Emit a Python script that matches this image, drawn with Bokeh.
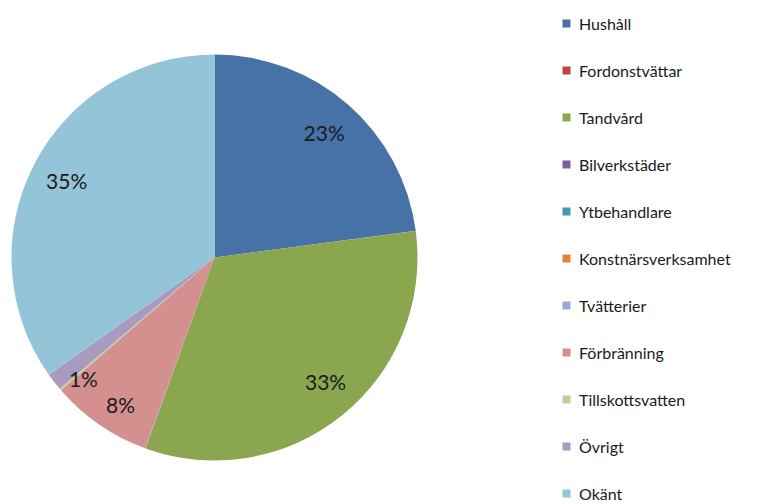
import math
from bokeh.plotting import figure
from bokeh.models import Legend, LegendItem, Range1d
from bokeh.core.properties import value
from bokeh.embed import file_html
from bokeh.resources import INLINE

# ---- data ----
categories = ["Hushåll", "Fordonstvättar", "Tandvård", "Bilverkstäder", "Ytbehandlare",
              "Konstnärsverksamhet", "Tvätterier", "Förbränning", "Tillskottsvatten",
              "Övrigt", "Okänt"]
shares = [22.9, 0.01, 32.6, 0.01, 0.01, 0.01, 0.01, 8.1, 0.15, 1.4, 34.8]
colors = ["#4672A8", "#B94743", "#8AA64F", "#7D5E9E", "#3E9CB4", "#E0853A",
          "#95ABD3", "#D4908F", "#BBD19A", "#A99BC0", "#93C4D7"]

# ---- layout ----
W, H = 762, 503
cx, cy, R = 214, H - 257, 203
label_r = [0.82, 0.82, 0.82, 0.82, 0.82, 0.82, 0.82, 0.86, 0.82, 0.88, 0.82]
label_da = [0, 0, 3, 0, 0, 0, 0, 2, 0, 5, 0]  # degrees

total = sum(shares)
starts, ends, lx, ly, ltxt = [], [], [], [], []
cum = 0.0
for i, v in enumerate(shares):
    a0 = math.pi / 2 - 2 * math.pi * cum / total
    cum += v
    a1 = math.pi / 2 - 2 * math.pi * cum / total
    starts.append(a0)
    ends.append(a1)
    pct = round(100 * v / total)
    mid = (a0 + a1) / 2 + math.radians(label_da[i])
    if pct >= 1:
        lx.append(cx + label_r[i] * R * math.cos(mid))
        ly.append(cy + label_r[i] * R * math.sin(mid))
        ltxt.append(f"{pct}%")

p = figure(width=W, height=H, output_backend="svg", toolbar_location=None,
           x_range=Range1d(0, W), y_range=Range1d(0, H), min_border=0,
           outline_line_color=None)
p.axis.visible = False
p.grid.visible = False

renderers = []
for i in range(len(categories)):
    r = p.wedge(x=cx, y=cy, radius=R, start_angle=starts[i], end_angle=ends[i],
                direction="clock", fill_color=colors[i], line_color=None)
    renderers.append(r)

p.text(x=lx, y=ly, text=ltxt, text_align="center", text_baseline="middle",
       text_font=value("Lato"), text_font_size="21px", text_color="#1a1a1a")

legend = Legend(items=[LegendItem(label=c, renderers=[renderers[i]]) for i, c in enumerate(categories)],
                location=(561, H - 13 - 490), orientation="vertical",
                glyph_width=10, glyph_height=10, label_standoff=8,
                label_height=20, spacing=27, padding=0, margin=0,
                border_line_color=None, background_fill_alpha=0,
                label_text_font="Lato", label_text_font_size="16px",
                label_text_color="#1a1a1a")
p.add_layout(legend)

open("out.html", "w").write(file_html(p, INLINE))
